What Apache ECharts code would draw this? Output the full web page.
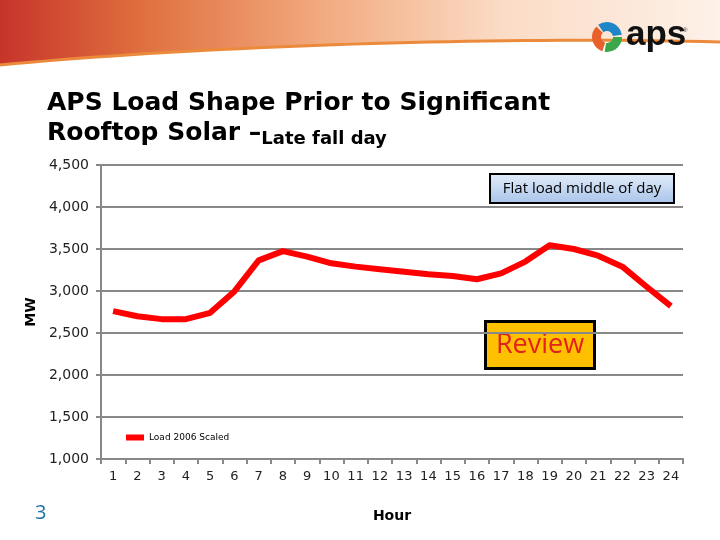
<!DOCTYPE html>
<html>
<head>
<meta charset="utf-8">
<script src="https://cdn.jsdelivr.net/npm/echarts@6/dist/echarts.min.js"></script>
<style>
  html, body { margin: 0; padding: 0; background: #fff; }
  #chart { width: 720px; height: 540px; }
</style>
</head>
<body>
<div id="chart"></div>
<script>
var hours = ["1", "2", "3", "4", "5", "6", "7", "8", "9", "10", "11", "12",
  "13", "14", "15", "16", "17", "18", "19", "20", "21", "22", "23", "24"];
var load2006 = [2760, 2700, 2665, 2665, 2740, 2995, 3365, 3475, 3410, 3330, 3290, 3260,
  3230, 3200, 3178, 3140, 3210, 3350, 3545, 3500, 3420, 3290, 3050, 2820];
var yTicks = [1000, 4500, 500];

// header swoosh outline (decoration only)
function swooshEdge() {
  var pts = [];
  var p0 = [0, 65], p1 = [200, 46], p2 = [500, 36], p3 = [720, 42];
  for (var i = 0; i <= 40; i++) {
    var t = i / 40, u = 1 - t;
    pts.push([
      u * u * u * p0[0] + 3 * u * u * t * p1[0] + 3 * u * t * t * p2[0] + t * t * t * p3[0],
      u * u * u * p0[1] + 3 * u * u * t * p1[1] + 3 * u * t * t * p2[1] + t * t * t * p3[1],
    ]);
  }
  return pts;
}
var edge = swooshEdge();

var chartDom = document.getElementById("chart");
var myChart = echarts.init(chartDom);
var option;
option = {
  animation: false,
  grid: {
    left: 101,
    right: 37,
    top: 165,
    bottom: 81,
    containLabel: false,
  },
  graphic: [
    // header swoosh
    {
      type: "polygon",
      shape: { points: [[0, 0], [720, 0]].concat(edge.slice().reverse()) },
      style: {
        fill: new echarts.graphic.LinearGradient(0, 0, 1, 0, [
          { offset: 0, color: "#c6342a" },
          { offset: 0.2, color: "#e0703f" },
          { offset: 0.45, color: "#f2ab80" },
          { offset: 0.7, color: "#fbdcc6" },
          { offset: 1, color: "#fdf1e8" },
        ]),
      },
      z: 1,
    },
    {
      type: "polyline",
      shape: { points: edge },
      style: { fill: null, stroke: "#ec8a3c", lineWidth: 3 },
      z: 2,
    },
    // logo pinwheel
    { type: "sector", shape: { cx: 607, cy: 37, r0: 6, r: 15, startAngle: Math.PI * 0.6, endAngle: Math.PI * 1.25 }, style: { fill: "#e8612c" }, z: 3 },
    { type: "sector", shape: { cx: 607, cy: 37, r0: 6, r: 15, startAngle: Math.PI * 1.3, endAngle: Math.PI * 1.95 }, style: { fill: "#1f86c7" }, z: 3 },
    { type: "sector", shape: { cx: 607, cy: 37, r0: 6, r: 15, startAngle: Math.PI * 2.0, endAngle: Math.PI * 2.55 }, style: { fill: "#3aa84a" }, z: 3 },
    {
      type: "text",
      left: 626,
      top: 18,
      style: { text: "aps", fill: "#111", font: "bold 35px 'Liberation Sans', Arial, sans-serif" },
      z: 3,
    },
    {
      type: "text",
      left: 683,
      top: 27,
      style: { text: "®", fill: "#333", font: "6px sans-serif" },
      z: 3,
    },
    // title
    {
      type: "text",
      left: 47,
      top: 91,
      style: {
        text: "{a|APS Load Shape Prior to Significant}\n{a|Rooftop Solar –}{b|Late fall day}",
        rich: {
          a: { fontFamily: "DejaVu Sans", fontWeight: "bold", fontSize: 25, lineHeight: 30, fill: "#000" },
          b: { fontFamily: "DejaVu Sans", fontWeight: "bold", fontSize: 18, lineHeight: 30, fill: "#000", verticalAlign: "bottom" },
        },
      },
    },
    // annotation boxes
    {
      type: "group",
      left: 489,
      top: 173,
      children: [
        {
          type: "rect",
          shape: { x: 0, y: 0, width: 184, height: 29 },
          style: {
            fill: new echarts.graphic.LinearGradient(0, 0, 0, 1, [
              { offset: 0, color: "#e3edf9" },
              { offset: 1, color: "#a8c3ea" },
            ]),
            stroke: "#000",
            lineWidth: 2,
          },
        },
        {
          type: "text",
          style: {
            x: 92, y: 15, text: "Flat load middle of day", align: "center", verticalAlign: "middle",
            fill: "#000", font: "15px 'Open Sans', 'Noto Sans', sans-serif",
          },
        },
      ],
      z: 10,
    },
    {
      type: "group",
      left: 484,
      top: 320,
      children: [
        {
          type: "rect",
          shape: { x: 1.5, y: 1.5, width: 109, height: 47 },
          style: { fill: "#ffc000", stroke: "#000", lineWidth: 3 },
        },
        {
          type: "text",
          style: {
            x: 56, y: 25, text: "Review", align: "center", verticalAlign: "middle",
            fill: "#e3211c", font: "27px 'Open Sans', 'Noto Sans', sans-serif",
          },
        },
      ],
      z: 10,
    },
    // slide number
    {
      type: "text",
      left: 35,
      top: 503,
      style: { text: "3", fill: "#1d6fa5", font: "20px 'Open Sans', sans-serif" },
    },
  ],
  legend: {
    left: 126,
    top: 433,
    padding: 0,
    itemWidth: 18,
    itemHeight: 6,
    itemGap: 4,
    icon: "rect",
    textStyle: { fontSize: 9, color: "#000", fontFamily: "DejaVu Sans" },
    data: ["Load 2006 Scaled"],
  },
  xAxis: {
    type: "category",
    data: hours,
    boundaryGap: true,
    name: "Hour",
    nameLocation: "middle",
    nameGap: 50,
    nameTextStyle: { fontFamily: "DejaVu Sans", fontWeight: "bold", fontSize: 14, color: "#000" },
    axisLine: { show: true, lineStyle: { color: "#888", width: 2 } },
    axisTick: { show: true, length: 5, alignWithLabel: false, lineStyle: { color: "#888", width: 2 } },
    axisLabel: { color: "#222", fontSize: 13, fontFamily: "DejaVu Sans", margin: 11 },
  },
  yAxis: {
    type: "value",
    min: yTicks[0],
    max: yTicks[1],
    interval: yTicks[2],
    name: "MW",
    nameLocation: "middle",
    nameGap: 62,
    nameRotate: 90,
    nameTextStyle: { fontFamily: "DejaVu Sans", fontWeight: "bold", fontSize: 14, color: "#000" },
    axisLine: { show: true, lineStyle: { color: "#888", width: 2 } },
    axisTick: { show: true, length: 5, inside: false, lineStyle: { color: "#888", width: 2 } },
    axisLabel: {
      color: "#222",
      fontSize: 14,
      fontFamily: "DejaVu Sans",
      margin: 12,
      formatter: function (value) {
        return value.toLocaleString("en-US");
      },
    },
    splitLine: { show: true, lineStyle: { color: "#888", width: 2 } },
  },
  series: [
    {
      name: "Load 2006 Scaled",
      type: "line",
      data: load2006,
      showSymbol: false,
      symbol: "none",
      smooth: false,
      lineStyle: { color: "#ff0000", width: 6, join: "round" },
      itemStyle: { color: "#ff0000" },
      z: 5,
    },
  ],
};
option && myChart.setOption(option);
</script>
</body>
</html>
